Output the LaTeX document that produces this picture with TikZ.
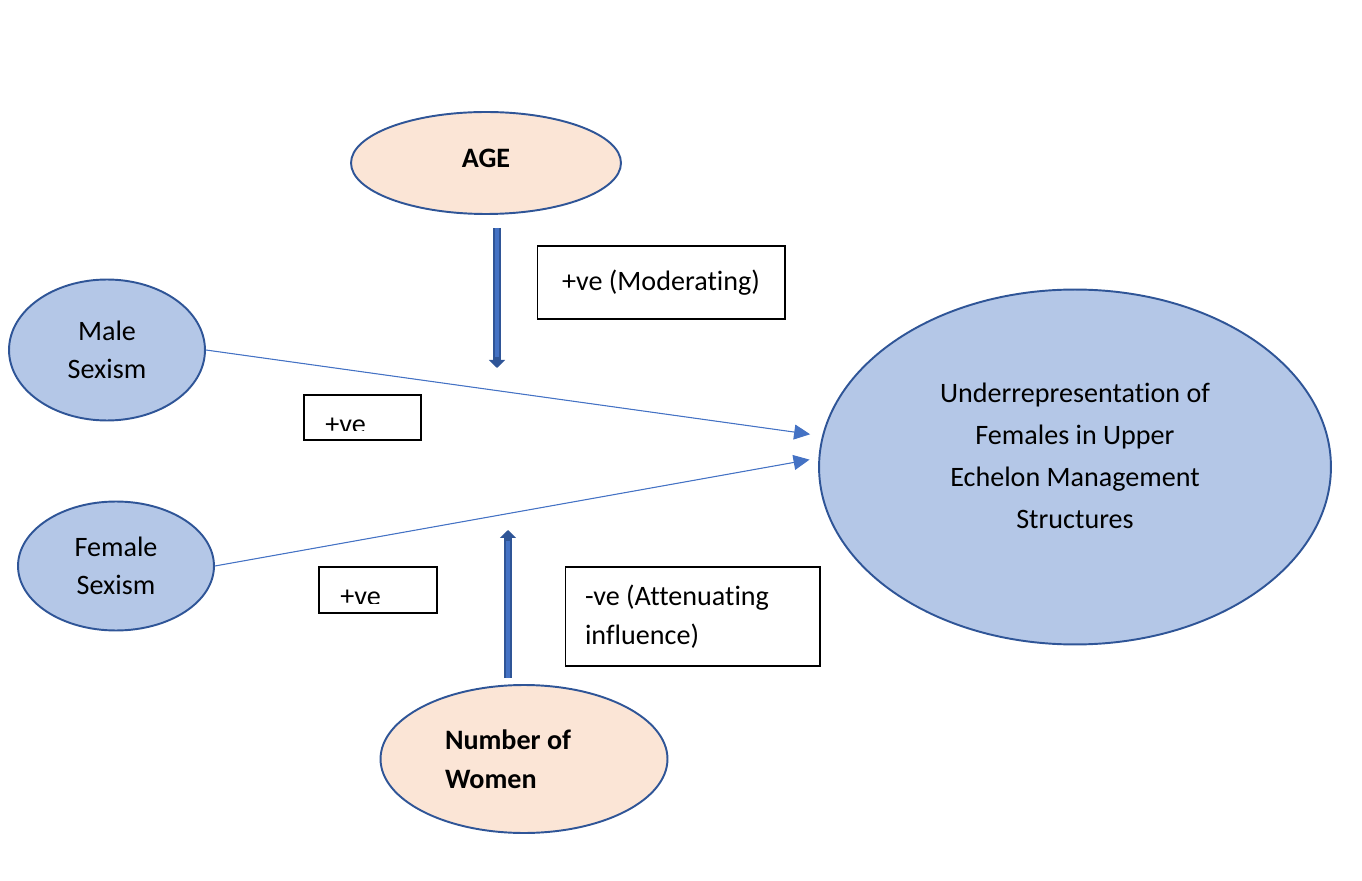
\documentclass[tikz,border=0pt]{standalone}
\usepackage{fontspec}
\setmainfont{Carlito}[Ligatures=NoCommon]
\usepackage{xcolor}
\usepackage{tikz}
\usetikzlibrary{positioning}
\usetikzlibrary{shapes.geometric,arrows.meta}
\definecolor{peach}{HTML}{FBE5D6}
\definecolor{paleblue}{HTML}{B4C7E7}
\definecolor{rimblue}{HTML}{2F5597}
\definecolor{lineblue}{HTML}{4472C4}
\tikzset{edge/.style = {-{Triangle[length=0.32cm,width=0.3cm]},draw=lineblue,fill=lineblue,line width=0.6pt}}

\begin{document}
\begin{tikzpicture}[x=0.02cm,y=-0.02cm,font=\fontsize{16}{22}\selectfont,
  main node/.style={ellipse,draw=rimblue,line width=1.1pt,inner sep=0pt},
  trait node/.style={main node,fill=paleblue,align=center},
  moderator node/.style={main node,fill=peach,font=\fontsize{16}{22}\selectfont\bfseries},
  note box/.style={rectangle,draw=black,line width=0.6pt,inner sep=0pt},
  block arrow/.style={-{Triangle[length=0.16cm,width=0.32cm]},line width=0.17cm,draw=rimblue,fill=rimblue},
  block core/.style={line width=0.08cm,draw=lineblue}]
                \useasboundingbox (0,0) rectangle (1362,881);

                \node[moderator node, minimum width=5.4cm, minimum height=2.04cm, text depth=0.2cm] (age) at (486,163) {AGE};
                \node[trait node, minimum width=3.92cm, minimum height=2.82cm] (male) at (107,350) {Male\\Sexism};
                \node[trait node, minimum width=3.92cm, minimum height=2.58cm] (female) at (116,566) {Female\\Sexism};
                \node[trait node, minimum width=10.24cm, minimum height=7.1cm, text depth=0.46cm, font=\fontsize{16}{24}\selectfont] (under) at (1075,467) {Underrepresentation of\\Females in Upper\\Echelon Management\\Structures};
                \node[moderator node, minimum width=5.74cm, minimum height=2.96cm, text width=3.16cm, align=flush left] (women) at (524,759) {Number of\\Women};

                \node[note box, minimum width=4.96cm, minimum height=1.46cm] (moderating) at (661,282.5) {+ve (Moderating)};
                \node[note box, minimum width=5.1cm, minimum height=1.98cm, text width=4.3cm, align=flush left] (attenuating) at (692.5,616.5) {-ve (Attenuating\\influence)};
                \node[note box, minimum width=2.34cm, minimum height=0.9cm] (male ve) at (362.5,417.5) {};
                \node[note box, minimum width=2.36cm, minimum height=0.92cm] (female ve) at (378,590) {};
                \begin{scope}
                \clip (male ve.north west) rectangle ([yshift=0.2cm]male ve.south east);
                \node[anchor=base west, inner sep=0pt] (male ve text) at (325,434) {+ve};
                \end{scope}
                \begin{scope}
                \clip (female ve.north west) rectangle ([yshift=0.2cm]female ve.south east);
                \node[anchor=base west, inner sep=0pt] (female ve text) at (340,605) {+ve};
                \end{scope}

                \path (male.east) edge[edge, shorten >=0.24cm] (under.173);
                \path (female.east) edge[edge, shorten >=0.18cm] (under.178);

                \coordinate (age top) at (497,228);
                \coordinate (age tip) at (497,368);
                \coordinate (women foot) at (508,678);
                \coordinate (women tip) at (508,530);
                \draw[block arrow] (age top) -- (age tip);
                \draw[block core, shorten >=0.22cm] (age top) -- (age tip);
                \draw[block arrow] (women foot) -- (women tip);
                \draw[block core, shorten >=0.22cm] (women foot) -- (women tip);
            \end{tikzpicture}
\end{document}
